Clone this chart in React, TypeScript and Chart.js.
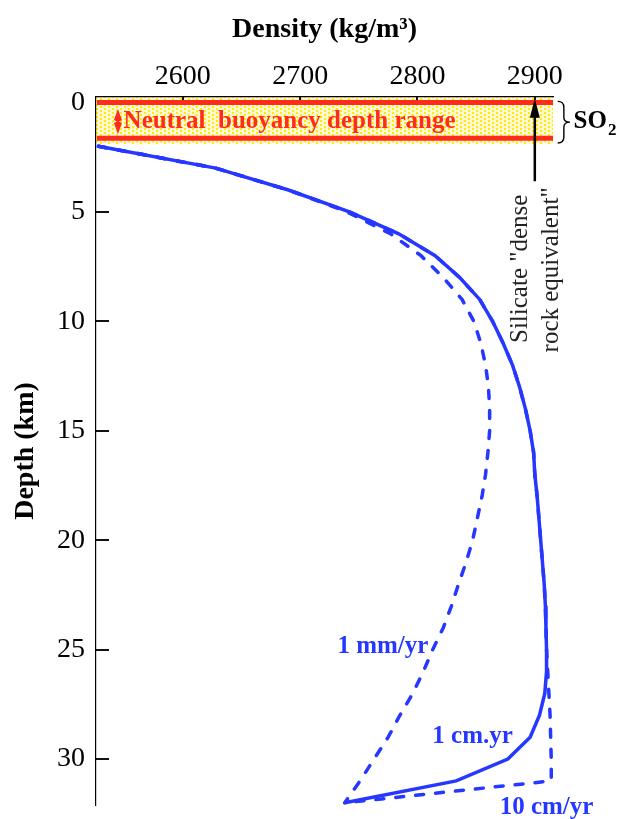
import React, { useEffect, useRef } from 'react';
import { Chart, registerables } from 'chart.js';

Chart.register(...registerables);

// ---------- data ----------
const DEPTHS = [2, 3, 4, 5, 6, 7, 8, 9, 10, 11, 12, 13, 14, 15, 16, 17, 18, 19, 20, 21, 22, 23, 24, 25, 26, 27, 28, 29, 30, 31, 32];
const RATE_1MM = [2528, 2628, 2690, 2740, 2777, 2803, 2822, 2838, 2848, 2854, 2858, 2860.5, 2861.5, 2861.5, 2860, 2858, 2855, 2851, 2847, 2841.5, 2835, 2829, 2822, 2813, 2805, 2796, 2785, 2775, 2763, 2751, 2738];
const RATE_1CM = [2528, 2628, 2690, 2742, 2784, 2815, 2836, 2853, 2864, 2873, 2881, 2887, 2892, 2896, 2899, 2900, 2902, 2903.5, 2905, 2906.5, 2908, 2909, 2909.5, 2910, 2910, 2908.5, 2904, 2896, 2877, 2833, 2738];
const RATE_10CM = [2528, 2628, 2690, 2742, 2784, 2815, 2836, 2853, 2864, 2873, 2881, 2887, 2892, 2896, 2899, 2900, 2902, 2903.5, 2905, 2906.5, 2908, 2909, 2909.5, 2910, 2911, 2912, 2913, 2913.5, 2914, 2914, 2738];

const X_MIN = 2526;
const X_MAX = 2915.5;
const Y_MIN = -0.25;
const Y_MAX = 32.1;
const X_STEP = 100;
const Y_STEP = 5;
const Y_TICKS = [0, 5, 10, 15, 20, 25, 30];
const X_TICKS = [2600, 2700, 2800, 2900];

const BAND_DEPTHS = [-0.25, 1.9];
const RED_LINE_DEPTHS = [0, 1.63];
const DRE_DENSITY = 2900;

const LABEL_1MM = { text: '1 mm/yr', x: 2770.5, y: 24.85 };
const LABEL_1CM = { text: '1 cm.yr', x: 2847, y: 28.95 };
const LABEL_10CM = { text: '10 cm/yr', x: 2910, y: 32.2 };
const BAND_TEXT = { text: 'Neutral  buoyancy depth range', x: 2549.5, y: 0.88 };
const SILICATE_LINES = [
  { text: 'Silicate "dense', x: 2887.7, y: 7.6 },
  { text: 'rock equivalent"', x: 2914.2, y: 7.65 },
];

const BLUE = '#2638ff';
const RED = '#ff2b1c';
const SERIF = "'Liberation Serif', 'Times New Roman', serif";

const toPts = (vals: number[]) => vals.map((v, i) => ({ x: v, y: DEPTHS[i] }));

function makePattern(ctx: CanvasRenderingContext2D) {
  const c = document.createElement('canvas');
  c.width = 8;
  c.height = 4;
  const p = c.getContext('2d')!;
  p.fillStyle = '#fff9cc';
  p.fillRect(0, 0, 8, 4);
  p.fillStyle = '#ffe81a';
  p.fillRect(0, 0, 2, 2);
  p.fillRect(4, 2, 2, 2);
  return ctx.createPattern(c, 'repeat');
}

const decor = {
  id: 'decor',
  beforeDraw(chart: any) {
    const { ctx, chartArea: a, scales } = chart;
    const y = scales.y;
    const t = y.getPixelForValue(BAND_DEPTHS[0]);
    const b = y.getPixelForValue(BAND_DEPTHS[1]);
    ctx.save();
    ctx.fillStyle = makePattern(ctx) || '#ffffc0';
    ctx.fillRect(a.left, t, a.right - a.left, b - t);
    ctx.restore();
  },
  beforeDatasetsDraw(chart: any) {
    const { ctx, chartArea: a, scales } = chart;
    const { x, y } = scales;
    ctx.save();
    // red lines
    ctx.strokeStyle = RED;
    ctx.lineWidth = 5;
    RED_LINE_DEPTHS.forEach((d) => {
      const py = y.getPixelForValue(d);
      ctx.beginPath();
      ctx.moveTo(a.left + 1, py);
      ctx.lineTo(a.right, py);
      ctx.stroke();
    });
    // red double arrow
    const ax = x.getPixelForValue(2544.7);
    const at = y.getPixelForValue(0.3);
    const ab = y.getPixelForValue(1.44);
    ctx.fillStyle = RED;
    ctx.lineWidth = 2;
    ctx.beginPath();
    ctx.moveTo(ax, at + 6);
    ctx.lineTo(ax, ab - 6);
    ctx.stroke();
    ctx.beginPath();
    ctx.moveTo(ax, at);
    ctx.lineTo(ax + 4, at + 11);
    ctx.lineTo(ax, at + 13);
    ctx.lineTo(ax - 4, at + 11);
    ctx.closePath();
    ctx.fill();
    ctx.beginPath();
    ctx.moveTo(ax, ab);
    ctx.lineTo(ax + 4, ab - 11);
    ctx.lineTo(ax, ab - 13);
    ctx.lineTo(ax - 4, ab - 11);
    ctx.closePath();
    ctx.fill();
    // band text
    ctx.font = `bold 25px ${SERIF}`;
    ctx.textAlign = 'left';
    ctx.textBaseline = 'middle';
    ctx.fillText(BAND_TEXT.text, x.getPixelForValue(BAND_TEXT.x), y.getPixelForValue(BAND_TEXT.y));
    ctx.restore();
  },
  afterDraw(chart: any) {
    const { ctx, chartArea: a, scales } = chart;
    const { x, y } = scales;
    ctx.save();
    // inward tick marks on the left axis
    ctx.strokeStyle = '#111';
    ctx.lineWidth = 2;
    Y_TICKS.forEach((v) => {
      if (v === 0) return;
      const py = Math.round(y.getPixelForValue(v));
      ctx.beginPath();
      ctx.moveTo(a.left, py);
      ctx.lineTo(a.left + 13, py);
      ctx.stroke();
    });
    X_TICKS.forEach((v) => {
      const px = Math.round(x.getPixelForValue(v));
      ctx.beginPath();
      ctx.moveTo(px, a.top);
      ctx.lineTo(px, a.top + 3);
      ctx.stroke();
    });
    // blue labels
    ctx.fillStyle = BLUE;
    ctx.font = `bold 25px ${SERIF}`;
    ctx.textAlign = 'center';
    ctx.textBaseline = 'middle';
    [LABEL_1MM, LABEL_1CM, LABEL_10CM].forEach((l) => {
      ctx.fillText(l.text, x.getPixelForValue(l.x), y.getPixelForValue(l.y));
    });
    // black arrow (dense rock equivalent)
    const bx = x.getPixelForValue(DRE_DENSITY);
    const tip = y.getPixelForValue(-0.17);
    const base = y.getPixelForValue(3.6);
    ctx.strokeStyle = '#000';
    ctx.fillStyle = '#000';
    ctx.lineWidth = 2.5;
    ctx.beginPath();
    ctx.moveTo(bx, base);
    ctx.lineTo(bx, tip + 15);
    ctx.stroke();
    ctx.beginPath();
    ctx.moveTo(bx, tip);
    ctx.lineTo(bx + 5, tip + 19);
    ctx.lineTo(bx - 5, tip + 19);
    ctx.closePath();
    ctx.fill();
    // silicate text
    ctx.fillStyle = '#222';
    ctx.font = `25px ${SERIF}`;
    SILICATE_LINES.forEach((l) => {
      ctx.save();
      ctx.translate(x.getPixelForValue(l.x), y.getPixelForValue(l.y));
      ctx.rotate(-Math.PI / 2);
      ctx.textAlign = 'center';
      ctx.textBaseline = 'middle';
      ctx.fillText(l.text, 0, 0);
      ctx.restore();
    });
    // brace
    const x0 = x.getPixelForValue(2919.5);
    const x1 = x.getPixelForValue(2930);
    const mid = (x0 + x1) / 2;
    const t = y.getPixelForValue(-0.05);
    const b = y.getPixelForValue(1.85);
    const m = (t + b) / 2;
    ctx.strokeStyle = '#000';
    ctx.lineWidth = 1.4;
    ctx.beginPath();
    ctx.moveTo(x0, t);
    ctx.quadraticCurveTo(mid, t, mid, t + 6);
    ctx.lineTo(mid, m - 5);
    ctx.quadraticCurveTo(mid, m, x1, m);
    ctx.quadraticCurveTo(mid, m, mid, m + 5);
    ctx.lineTo(mid, b - 6);
    ctx.quadraticCurveTo(mid, b, x0, b);
    ctx.stroke();
    // SO2
    ctx.fillStyle = '#000';
    ctx.font = `bold 25px ${SERIF}`;
    ctx.textAlign = 'left';
    ctx.textBaseline = 'middle';
    const sx = x.getPixelForValue(2933);
    const sy = y.getPixelForValue(0.88);
    ctx.fillText('SO', sx, sy);
    const w = ctx.measureText('SO').width;
    ctx.font = `bold 17px ${SERIF}`;
    ctx.fillText('2', sx + w + 1, sy + 9);
    ctx.restore();
  },
};

export default function App() {
  const ref = useRef<HTMLCanvasElement | null>(null);
  useEffect(() => {
    if (!ref.current) return;
    const lineBase = { pointRadius: 0, borderColor: BLUE, borderWidth: 3.5, tension: 0, fill: false };
    const chart = new Chart(ref.current, {
      type: 'line',
      data: {
        datasets: [
          { ...lineBase, label: '10 cm/yr', data: toPts(RATE_10CM), borderDash: [8, 12], borderCapStyle: 'round' },
          { ...lineBase, label: '1 mm/yr', data: toPts(RATE_1MM), borderDash: [8, 12], borderCapStyle: 'round' },
          { ...lineBase, label: '1 cm/yr', data: toPts(RATE_1CM) },
        ] as any,
      },
      options: {
        animation: false,
        responsive: false,
        devicePixelRatio: 1,
        layout: { padding: { left: 0, right: 71, top: 0, bottom: 14 } },
        plugins: { legend: { display: false }, tooltip: { enabled: false } },
        scales: {
          x: {
            type: 'linear',
            position: 'top',
            min: X_MIN,
            max: X_MAX,
            afterFit: (s: any) => {
              s.height = 97;
              s.paddingLeft = 0;
              s.paddingRight = 0;
            },
            ticks: {
              stepSize: X_STEP,
              includeBounds: false,
              padding: 4,
              color: '#000',
              maxRotation: 0,
              autoSkip: false,
              font: { family: SERIF, size: 28 },
              callback: (v: any) => String(v),
            },
            grid: { drawOnChartArea: false, drawTicks: false, tickLength: 0 },
            border: { display: true, color: '#000', width: 1.2 },
            title: {
              display: true,
              text: 'Density (kg/m³)',
              color: '#000',
              font: { family: SERIF, size: 28, weight: 'bold' },
              padding: { top: 13, bottom: 0 },
            },
          },
          y: {
            type: 'linear',
            reverse: true,
            min: Y_MIN,
            max: Y_MAX,
            afterFit: (s: any) => {
              s.width = 96;
              s.paddingTop = 0;
              s.paddingBottom = 0;
            },
            ticks: {
              stepSize: Y_STEP,
              includeBounds: false,
              padding: 11,
              color: '#000',
              autoSkip: false,
              font: { family: SERIF, size: 28 },
              callback: (v: any) => String(v),
            },
            grid: { drawOnChartArea: false, drawTicks: false, tickLength: 0 },
            border: { display: true, color: '#000', width: 1.2 },
            title: {
              display: true,
              text: 'Depth (km)',
              color: '#000',
              font: { family: SERIF, size: 28, weight: 'bold' },
              padding: { top: 9, bottom: 0 },
            },
          },
        },
      } as any,
      plugins: [decor],
    });
    return () => chart.destroy();
  }, []);
  return (
    <div style={{ position: 'fixed', left: 0, top: 0, width: 624, height: 819, background: '#fff' }}>
      <canvas ref={ref} width={624} height={819} style={{ width: 624, height: 819, display: 'block' }} />
    </div>
  );
}
